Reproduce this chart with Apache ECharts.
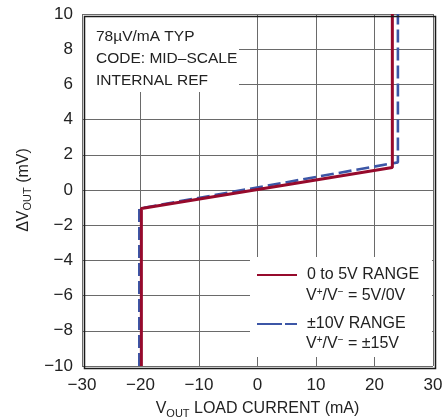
<!DOCTYPE html>
<html lang="en">
<head>
    <meta charset="UTF-8">
    <title>Load regulation</title>
    <script src="https://cdn.jsdelivr.net/npm/echarts@6/dist/echarts.min.js"></script>
    <style type="text/css">
        body{ margin:0; background:#fff; }
    </style>
</head>
<body>
<div id="main" style="width: 443px;height:419px;"></div>
<script type="text/javascript">
    // data
    var xTicks = [-30, -20, -10, 0, 10, 20, 30];
    var yTicks = [-10, -8, -6, -4, -2, 0, 2, 4, 6, 8, 10];
    var range5Name = '0 to 5V RANGE';
    var range5X = [-19.85, -19.85, 23.05, 23.05];
    var range5Y = [-10, -1.05, 1.28, 10];
    var range10Name = '±10V RANGE';
    var range10X = [-20.2, -20.2, 24.0, 24.0];
    var range10Y = [-10, -1.05, 1.57, 10];
    var noteLines = ['78µV/mA TYP', 'CODE: MID–SCALE', 'INTERNAL REF'];

    var FONT = "'Liberation Sans', Arial, sans-serif";
    function pairs(xs, ys) {
        var out = [];
        for (var i = 0; i < xs.length; i++) out.push([xs[i], ys[i]]);
        return out;
    }
    var subStyle = { fontSize: 11, fontFamily: FONT, color: '#222', verticalAlign: 'bottom', lineHeight: 20 };
    var supStyle = { fontSize: 10, fontFamily: FONT, color: '#222', verticalAlign: 'top', lineHeight: 18 };

    var myChart = echarts.init(document.getElementById('main'));
    var graphics = [
        { type: 'rect', left: 83, top: 15, shape: { width: 156, height: 77 }, style: { fill: '#fff' }, z: 1 },
        { type: 'rect', left: 250, top: 257, shape: { width: 182, height: 100 }, style: { fill: '#fff' }, z: 1 }
    ];
    for (var i = 0; i < noteLines.length; i++) {
        graphics.push({ type: 'text', left: 96, top: 29 + i * 22, z: 5,
            style: { text: noteLines[i], font: '15.5px ' + FONT, fill: '#222' } });
    }
    var supText = [['5V/0V', 287], ['±15V', 335]];
    for (var j = 0; j < supText.length; j++) {
        graphics.push({ type: 'text', left: 306, top: supText[j][1], z: 5,
            style: { text: 'V{sup|+}/V{sup|−} = ' + supText[j][0], fontSize: 16, fontFamily: FONT, fill: '#222',
                lineHeight: 18, rich: { sup: supStyle } } });
    }

    var option = {
        animation: false,
        grid: { left: 82, right: 10, top: 14, bottom: 53, outerBoundsMode: 'none', containLabel: false },
        legend: {
            orient: 'vertical', left: 256, top: 267, z: 5,
            itemWidth: 40, itemHeight: 16, itemGap: 33, padding: 0,
            itemStyle: { opacity: 0, borderWidth: 0 },
            data: [range5Name, { name: range10Name, lineStyle: { type: [25, 3] } }],
            textStyle: { fontSize: 16, fontFamily: FONT, color: '#222', padding: [0, 0, 0, 5] }
        },
        xAxis: {
            type: 'value', min: xTicks[0], max: xTicks[xTicks.length - 1], interval: 10,
            name: 'V{sub|OUT} LOAD CURRENT (mA)', nameLocation: 'middle', nameGap: 33,
            nameTextStyle: { fontSize: 16, fontFamily: FONT, color: '#222', lineHeight: 20, rich: { sub: subStyle } },
            axisLine: { show: false }, axisTick: { show: false },
            axisLabel: { fontSize: 17, fontFamily: FONT, color: '#222', margin: 11,
                formatter: function (v) { return String(v).replace('-', '−'); } },
            splitLine: { lineStyle: { color: '#6a6a6a', width: 1 } }
        },
        yAxis: {
            type: 'value', min: yTicks[0], max: yTicks[yTicks.length - 1], interval: 2,
            name: 'ΔV{sub|OUT} (mV)', nameLocation: 'middle', nameGap: 44, nameRotate: 90,
            nameTextStyle: { fontSize: 16, fontFamily: FONT, color: '#222', lineHeight: 20, rich: { sub: subStyle } },
            axisLine: { show: false }, axisTick: { show: false },
            axisLabel: { fontSize: 17, fontFamily: FONT, color: '#222', margin: 9,
                formatter: function (v) { return String(v).replace('-', '−'); } },
            splitLine: { lineStyle: { color: '#6a6a6a', width: 1 } }
        },
        graphic: graphics.concat([
            { type: 'rect', left: 82, top: 14, shape: { width: 351, height: 352 }, silent: true,
              style: { fill: 'none', stroke: '#1a1a1a', lineWidth: 1.5 }, z: 6 }
        ]),
        series: [
            {
                type: 'line', name: range10Name, data: pairs(range10X, range10Y), symbol: 'none', z: 2,
                lineStyle: { color: '#3c56a6', width: 2.6, type: [13, 5] },
                itemStyle: { color: '#3c56a6' }
            },
            {
                type: 'line', name: range5Name, data: pairs(range5X, range5Y), symbol: 'none', z: 3,
                lineStyle: { color: '#960a2c', width: 3 },
                itemStyle: { color: '#960a2c' }
            }
        ]
    };
    myChart.setOption(option);
</script>
</body>
</html>
